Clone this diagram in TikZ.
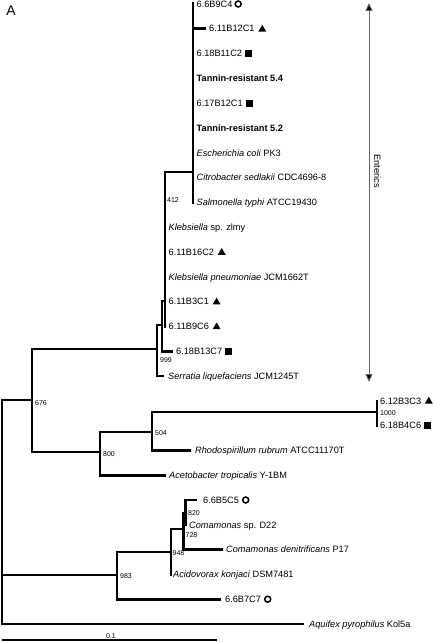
\documentclass[tikz,border=0pt]{standalone}
\usepackage{fontspec}
\setmainfont{Liberation Sans}
\usetikzlibrary{arrows.meta,shapes.geometric}
\begin{document}
\begin{tikzpicture}[x=1pt,y=-1pt,
  br/.style={line width=2.6pt,line cap=rect},
  lab/.style={anchor=base west,inner sep=0pt,font=\fontsize{9.2}{10}\selectfont},
  boot/.style={anchor=west,inner sep=0pt,font=\fontsize{7}{8}\selectfont},
  rmark/.style={circle,draw,line width=1.5pt,minimum size=6pt,inner sep=0pt},
  tmark/.style={regular polygon,regular polygon sides=3,fill,minimum size=9pt,inner sep=0pt},
  smark/.style={rectangle,fill,minimum size=7pt,inner sep=0pt}]
\useasboundingbox (0,0) rectangle (432,642);

% panel letter
\node[font=\fontsize{14}{16}\selectfont,inner sep=0pt] (panel) at (11,11) {A};

% ---- internal node coordinates ----
\coordinate (nroot) at (2,400);
\coordinate (n676) at (32,400.5);
\coordinate (n999) at (157,349);
\coordinate (nsub) at (162,325);
\coordinate (n412) at (165,172);
\coordinate (nent) at (193,172);
\coordinate (n800) at (100,452);
\coordinate (n504) at (152,432);
\coordinate (n1000) at (377,412);
\coordinate (n983) at (117,575);
\coordinate (n948) at (171,552);
\coordinate (n728) at (183.5,529);
\coordinate (n820) at (185.5,513);

% ---- branches ----
\draw[br] (2,400) -- (2,624);
\draw[br] (2,400) -- (32,400);
\draw[br] (2,575) -- (117,575);
\draw[br] (2,624) -- (303,624);

\draw[br] (32,349) -- (32,452);
\draw[br] (32,349) -- (157,349);
\draw[br] (32,452) -- (100,452);

\draw[br] (100,432) -- (100,475.2);
\draw[br] (100,432) -- (152,432);
\draw[br] (100,475.2) -- (165,475.2);

\draw[br] (152,412) -- (152,450.4);
\draw[br] (152,412) -- (377,412);
\draw[br] (152,450.4) -- (190,450.4);

\draw[br] (377,400.8) -- (377,425.6);

\draw[br] (157,325) -- (157,376);
\draw[br] (157,376) -- (163,376);
\draw[br] (157,325) -- (162,325);
\draw[br] (162,301) -- (162,351.2);
\draw[br] (162,351.2) -- (172,351.2);
\draw[br] (162,301) -- (165,301);
\draw[br] (165,172) -- (165,326.4);
\draw[br] (165,172) -- (193,172);
\draw[br] (193,3) -- (193,202.4);
\draw[br] (193,28.8) -- (205,28.8);

\draw[br] (117,552) -- (117,599.2);
\draw[br] (117,552) -- (171,552);
\draw[br] (117,599.2) -- (220,599.2);
\draw[br] (171,529) -- (171,574.4);
\draw[br] (171,529) -- (183.5,529);
\draw[br] (183.5,513) -- (183.5,549.6);
\draw[br] (183.5,549.6) -- (222,549.6);
\draw[br] (185.5,500) -- (185.5,525);
\draw[br] (185.5,500) -- (196,500);

% ---- bootstrap values ----
\node[boot] (b412) at (167,200) {412};
\node[boot] (b999) at (160,360) {999};
\node[boot] (b676) at (35,403) {676};
\node[boot] (b504) at (155,433) {504};
\node[boot] (b1000) at (380,413.5) {1000};
\node[boot] (b800) at (103,454) {800};
\node[boot] (b820) at (188,513.5) {820};
\node[boot] (b728) at (185.5,535.5) {728};
\node[boot] (b948) at (172.5,553) {948};
\node[boot] (b983) at (120,576) {983};

% ---- leaf labels (baseline = row + 3.2) ----
\node[lab] (l0) at (196.5,7.2) {6.6B9C4};
\node[lab] (l1) at (209,32) {6.11B12C1};
\node[lab] (l2) at (196.5,56.8) {6.18B11C2};
\node[lab] (l3) at (196.5,81.6) {\textbf{Tannin-resistant 5.4}};
\node[lab] (l4) at (196.5,106.4) {6.17B12C1};
\node[lab] (l5) at (196.5,131.2) {\textbf{Tannin-resistant 5.2}};
\node[lab] (l6) at (196.5,156) {\textit{Escherichia coli} PK3};
\node[lab] (l7) at (196.5,180.8) {\textit{Citrobacter sedlakii} CDC4696-8};
\node[lab] (l8) at (196.5,205.6) {\textit{Salmonella typhi} ATCC19430};
\node[lab] (l9) at (168.5,230.4) {\textit{Klebsiella} sp. zlmy};
\node[lab] (l10) at (168.5,255.2) {6.11B16C2};
\node[lab] (l11) at (168.5,280) {\textit{Klebsiella pneumoniae} JCM1662T};
\node[lab] (l12) at (168.5,304.8) {6.11B3C1};
\node[lab] (l13) at (168.5,329.6) {6.11B9C6};
\node[lab] (l14) at (176,354.4) {6.18B13C7};
\node[lab] (l15) at (168,379.2) {\textit{Serratia liquefaciens} JCM1245T};
\node[lab] (l16) at (380,404) {6.12B3C3};
\node[lab] (l17) at (380,428.8) {6.18B4C6};
\node[lab] (l18) at (195,453.6) {\textit{Rhodospirillum rubrum} ATCC11170T};
\node[lab] (l19) at (169,478.4) {\textit{Acetobacter tropicalis} Y-1BM};
\node[lab] (l20) at (203,503.2) {6.6B5C5};
\node[lab] (l21) at (189,528) {\textit{Comamonas} sp. D22};
\node[lab] (l22) at (226,552.8) {\textit{Comamonas denitrificans} P17};
\node[lab] (l23) at (173,577.6) {\textit{Acidovorax konjaci} DSM7481};
\node[lab] (l24) at (225,602.4) {6.6B7C7};
\node[lab] (l25) at (309,627.2) {\textit{Aquifex pyrophilus} Kol5a};

% ---- markers ----
\node[rmark] (m0) at ([xshift=5.5pt,yshift=3.2pt]l0.base east) {};
\node[tmark] (m1) at ([xshift=7.5pt,yshift=2.7pt]l1.base east) {};
\node[smark] (m2) at ([xshift=6.5pt,yshift=3.2pt]l2.base east) {};
\node[smark] (m4) at ([xshift=6.5pt,yshift=3.2pt]l4.base east) {};
\node[tmark] (m10) at ([xshift=7.5pt,yshift=2.7pt]l10.base east) {};
\node[tmark] (m12) at ([xshift=7.5pt,yshift=2.7pt]l12.base east) {};
\node[tmark] (m13) at ([xshift=7.5pt,yshift=2.7pt]l13.base east) {};
\node[smark] (m14) at ([xshift=6.5pt,yshift=3.2pt]l14.base east) {};
\node[tmark] (m16) at ([xshift=7.5pt,yshift=2.7pt]l16.base east) {};
\node[smark] (m17) at ([xshift=6.5pt,yshift=3.2pt]l17.base east) {};
\node[rmark] (m20) at ([xshift=6.5pt,yshift=3.2pt]l20.base east) {};
\node[rmark] (m24) at ([xshift=6.5pt,yshift=3.2pt]l24.base east) {};

% ---- Enterics bracket ----
\coordinate (etop) at (369,3);
\coordinate (ebot) at (369,382);
\draw[line width=0.9pt,draw=black!60,{Triangle[length=8pt,width=7pt,fill=black]}-{Triangle[length=8pt,width=7pt,fill=black]}] (etop) -- (ebot);
\node[rotate=-90,inner sep=0pt,font=\fontsize{9.2}{10}\selectfont] (ent) at (377.5,171) {Enterics};

% ---- scale bar ----
\coordinate (sb1) at (2,640);
\coordinate (sb2) at (217,640);
\draw[line width=2.2pt] (sb1) -- (sb2);
\node[anchor=south,inner sep=0pt,font=\fontsize{7}{8}\selectfont] (sbl) at (111,638.5) {0.1};
\end{tikzpicture}
\end{document}
